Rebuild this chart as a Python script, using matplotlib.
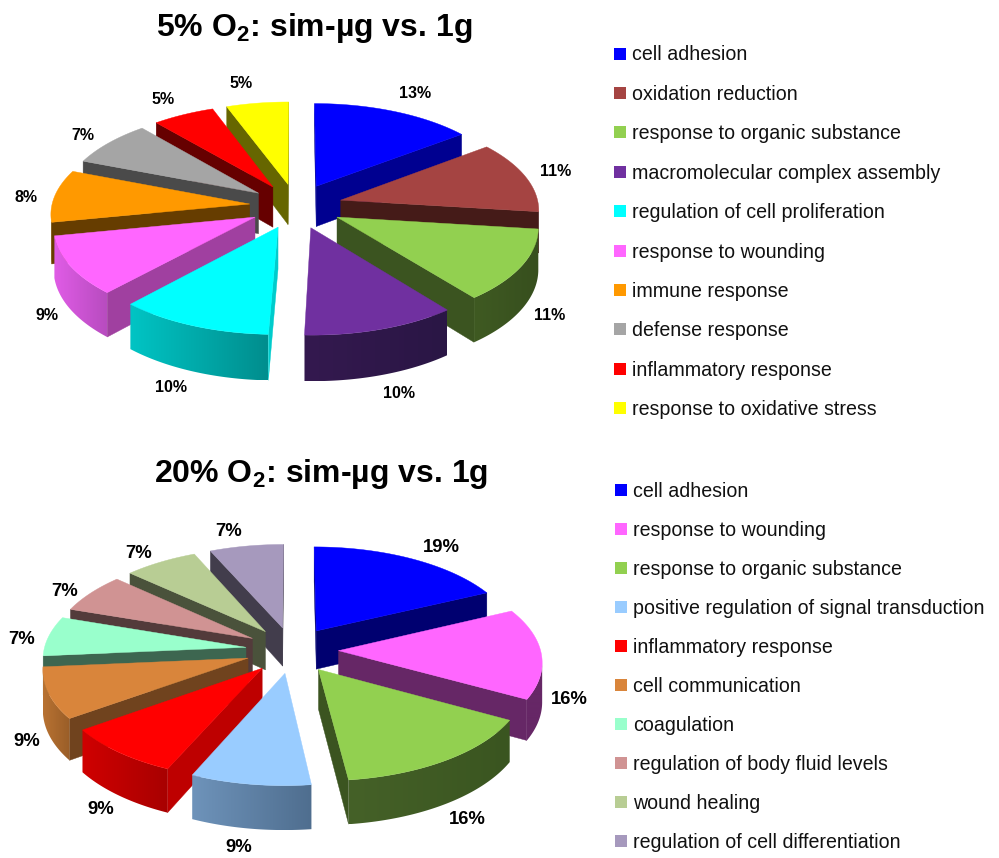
import numpy as np
import matplotlib
matplotlib.use("Agg")
import matplotlib.pyplot as plt
from matplotlib.colors import to_rgb
from matplotlib.patches import Polygon, Rectangle

plt.rcParams["font.family"] = ["Liberation Sans", "DejaVu Sans"]
plt.rcParams["mathtext.fontset"] = "custom"
plt.rcParams["mathtext.rm"] = "Liberation Sans"
plt.rcParams["mathtext.bf"] = "Liberation Sans:bold"

# GO-term shares, 5% oxygen
terms_5 = ["cell adhesion", "oxidation reduction", "response to organic substance",
           "macromolecular complex assembly", "regulation of cell proliferation",
           "response to wounding", "immune response", "defense response",
           "inflammatory response", "response to oxidative stress"]
values_5 = [13, 11, 11, 10, 10, 9, 8, 7, 5, 5]

# GO-term shares, 20% oxygen
terms_20 = ["cell adhesion", "response to wounding", "response to organic substance",
            "positive regulation of signal transduction", "inflammatory response",
            "cell communication", "coagulation", "regulation of body fluid levels",
            "wound healing", "regulation of cell differentiation"]
values_20 = [19, 16, 16, 9, 9, 9, 7, 7, 7, 7]

# Slice colours: top face, cut face, rim at its left end, rim at its right end
faces_5 = ["#0000FF", "#A54442", "#92D050", "#7030A0", "#00FFFF",
           "#FF66FF", "#FF9900", "#A5A5A5", "#FF0000", "#FFFF00"]
cuts_5 = ["#000090", "#451B18", "#3B5420", "#34194F", "#00CCCC",
          "#A040A0", "#663D00", "#4A4A4A", "#660000", "#666600"]
rims_5 = [("#000090", "#000090"), ("#451B18", "#451B18"), ("#3F5A22", "#374F1E"),
          ("#34194F", "#2A1645"), ("#00C4C4", "#008E8E"), ("#E05CE6", "#B84CC0"),
          ("#8A5A00", "#663D00"), ("#4A4A4A", "#4A4A4A"), ("#660000", "#660000"),
          ("#666600", "#666600")]

faces_20 = ["#0000FF", "#FF66FF", "#92D050", "#99CCFF", "#FF0000",
            "#D9853B", "#99FFCC", "#D09393", "#B8CD94", "#A699BD"]
cuts_20 = ["#000070", "#662766", "#3B5420", "#6A8FB5", "#BE0000",
           "#70431E", "#3D6650", "#533B3B", "#4A523B", "#423D4C"]
rims_20 = [("#000070", "#000070"), ("#662766", "#662766"), ("#456128", "#3A5520"),
           ("#6E93BA", "#4F6E8F"), ("#D00000", "#A80000"), ("#B87232", "#9A5E28"),
           ("#3D6650", "#3D6650"), ("#533B3B", "#533B3B"), ("#4A523B", "#4A523B"),
           ("#423D4C", "#423D4C")]

# Percentage label centres
labels_xy_5 = [(415, 93), (556, 172), (550, 315), (399, 393), (171, 388),
               (47, 315), (26, 197), (83, 136), (163, 99), (241, 84)]
labels_xy_20 = [(441, 548), (569, 699), (467, 820), (239, 848), (101, 810),
                (27, 741), (22, 639), (65, 591), (139, 553), (229, 531)]


def exploded_pie(ax, values, faces, cuts, rims, cx, cy, rx, ry, ex, ey, depth, persp=0.10):
    """Draw an exploded pie as an extruded, perspective-projected disk."""
    vals = np.asarray(values, float)
    edges = np.concatenate([[0], np.cumsum(vals)]) / vals.sum() * 2 * np.pi
    mids = (edges[:-1] + edges[1:]) / 2

    def project(u, v):
        s = 1 / (1 + persp * v)
        return cx + rx * u * s, cy - ry * v * s, s

    # Back slices are painted first so the front ones overlap them
    order = np.argsort(-np.cos(mids))
    for rank, i in enumerate(order):
        zo = 10 + 3 * rank
        ou, ov = ex * np.sin(mids[i]), ey * np.cos(mids[i])
        th = np.linspace(edges[i], edges[i + 1], 80)
        us = np.concatenate([[ou], ou + np.sin(th)])
        vs = np.concatenate([[ov], ov + np.cos(th)])
        x, y, s = project(us, vs)
        low = y + depth * s
        n = len(x)

        # Straight cut faces, shown only when they turn towards the viewer
        for a, b in ((0, 1), (n - 1, 0)):
            if x[b] < x[a]:
                quad = [(x[a], y[a]), (x[b], y[b]), (x[b], low[b]), (x[a], low[a])]
                ax.add_patch(Polygon(quad, closed=True, fc=cuts[i], ec=cuts[i],
                                     lw=0.3, zorder=zo))

        # Curved outer wall with a left-to-right shading ramp
        seen = [j for j in range(1, n - 1) if x[j + 1] < x[j]]
        if seen:
            idx = list(seen) + [seen[-1] + 1]
            outline = np.column_stack([np.r_[x[idx], x[idx][::-1]],
                                       np.r_[y[idx], low[idx][::-1]]])
            wall = Polygon(outline, closed=True, fc="none", ec="none", zorder=zo)
            ax.add_patch(wall)
            ramp = np.linspace(0, 1, 64)[None, :, None]
            left, right = np.array(to_rgb(rims[i][0])), np.array(to_rgb(rims[i][1]))
            img = ax.imshow(left + (right - left) * ramp, aspect="auto",
                            extent=(outline[:, 0].min(), outline[:, 0].max(),
                                    outline[:, 1].max(), outline[:, 1].min()),
                            interpolation="bilinear", zorder=zo)
            img.set_clip_path(wall)

        ax.add_patch(Polygon(np.column_stack([x, y]), closed=True, fc=faces[i],
                             ec=faces[i], lw=0.3, zorder=zo + 1))


def legend_column(ax, terms, colors, x_box, x_text, y0, step):
    for i, (term, col) in enumerate(zip(terms, colors)):
        yc = y0 + i * step
        ax.add_patch(Rectangle((x_box, yc - 6), 12, 12, fc=col, ec="none"))
        ax.text(x_text, yc + 1.5, term, fontsize=14.1, va="center", ha="left", color="#111111")


fig = plt.figure(figsize=(9.99, 8.58), dpi=100)
ax = fig.add_axes([0, 0, 1, 1])
ax.axis("off")

exploded_pie(ax, values_5, faces_5, cuts_5, rims_5,
             cx=296, cy=206, rx=198, ry=93.5, ex=0.235, ey=0.24, depth=41, persp=0.09)
exploded_pie(ax, values_20, faces_20, cuts_20, rims_20,
             cx=292, cy=650, rx=202, ry=96, ex=0.23, ey=0.24, depth=39)

ax.set_xlim(0, 999)
ax.set_ylim(858, 0)

for (lx, ly), v in zip(labels_xy_5, values_5):
    ax.text(lx, ly, f"{v}%", fontsize=11.5, fontweight="bold", ha="center", va="center", zorder=60)
for (lx, ly), v in zip(labels_xy_20, values_20):
    ax.text(lx, ly, f"{v}%", fontsize=13.3, fontweight="bold", ha="center", va="center", zorder=60)

ax.text(314, 36, r"5% O$_{\mathbf{2}}$: sim-µg vs. 1g", fontsize=23, fontweight="bold",
        ha="center", va="baseline")
ax.text(321, 482, r"20% O$_{\mathbf{2}}$: sim-µg vs. 1g", fontsize=23, fontweight="bold",
        ha="center", va="baseline")

legend_column(ax, terms_5, faces_5, 614, 632, 53.5, 39.4)
legend_column(ax, terms_20, faces_20, 615, 633, 490, 39.0)

fig.savefig("out.png", dpi=100)
